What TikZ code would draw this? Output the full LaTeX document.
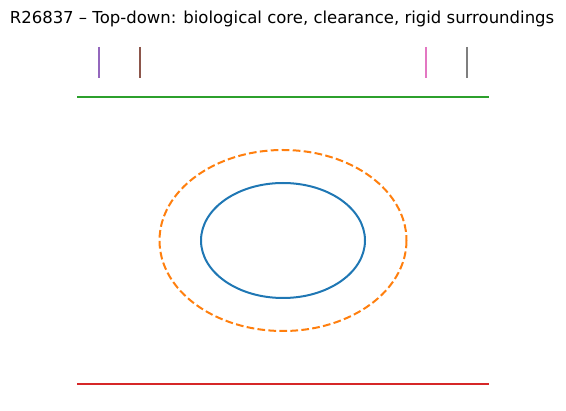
\documentclass[tikz,border=0pt]{standalone}
\usepackage{fontspec}
\setmainfont{DejaVu Sans}
\definecolor{tabblue}{HTML}{1F77B4}
\definecolor{taborange}{HTML}{FF7F0E}
\definecolor{tabgreen}{HTML}{2CA02C}
\definecolor{tabred}{HTML}{D62728}
\definecolor{tabpurple}{HTML}{9467BD}
\definecolor{tabbrown}{HTML}{8C564B}
\definecolor{tabpink}{HTML}{E377C2}
\definecolor{tabgray}{HTML}{7F7F7F}
\begin{document}
\begin{tikzpicture}[x=1pt,y=-1pt,
  mline/.style={line width=2pt},
  tick/.style={line width=2pt},
  clear/.style={line width=2pt, dash pattern=on 7.7pt off 3.3pt}]
\useasboundingbox (0,0) rectangle (566,411);
\node[anchor=base, inner sep=0pt, font=\fontsize{16.5}{20}\selectfont] (title) at (282,24) {R26837 – Top-down: biological core, clearance, rigid surroundings};
% rigid surroundings
\coordinate (gl) at (77,97); \coordinate (gr) at (489,97);
\coordinate (rl) at (77,384); \coordinate (rr) at (489,384);
\draw[mline, tabgreen] (gl) -- (gr);
\draw[mline, tabred] (rl) -- (rr);
% ticks
\coordinate (p1) at (99,47); \coordinate (p2) at (99,78);
\coordinate (b1) at (140,47); \coordinate (b2) at (140,78);
\coordinate (k1) at (426,47); \coordinate (k2) at (426,78);
\coordinate (g1) at (467,47); \coordinate (g2) at (467,78);
\draw[tick, tabpurple] (p1) -- (p2);
\draw[tick, tabbrown] (b1) -- (b2);
\draw[tick, tabpink] (k1) -- (k2);
\draw[tick, tabgray] (g1) -- (g2);
% core and clearance
\coordinate (c) at (283,240.5);
\draw[mline, tabblue] (c) ellipse [x radius=82, y radius=57.5];
\draw[clear, taborange] (c) ellipse [x radius=123.5, y radius=90.5];
\end{tikzpicture}
\end{document}
